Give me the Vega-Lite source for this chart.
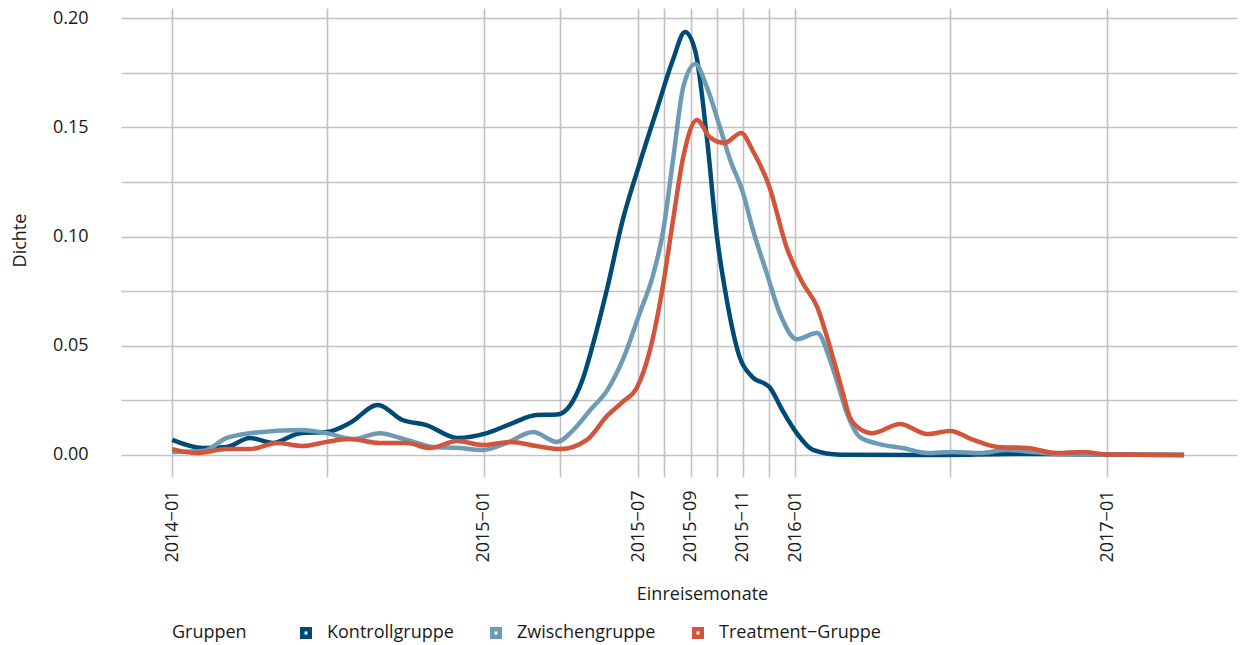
{
  "$schema": "https://vega.github.io/schema/vega-lite/v6.json",
  "width": 1116,
  "height": 469,
  "autosize": {"type": "none"},
  "padding": {"left": 121, "top": 8, "right": 3, "bottom": 168},
  "background": "white",
  "config": {
    "view": {"stroke": null},
    "font": "Open Sans",
    "axis": {"labelColor": "#1a1a1a", "titleColor": "#1a1a1a", "labelFont": "Open Sans", "titleFont": "Open Sans", "titleFontWeight": "normal"},
    "legend": {"labelFont": "Open Sans", "titleFont": "Open Sans", "titleFontWeight": "normal"}
  },
  "data": {
    "values": [
      {"monat": "2014-01-01", "gruppe": "Kontrollgruppe", "dichte": 0.0069},
      {"monat": "2014-02-06", "gruppe": "Kontrollgruppe", "dichte": 0.0032},
      {"monat": "2014-03-06", "gruppe": "Kontrollgruppe", "dichte": 0.0037},
      {"monat": "2014-04-02", "gruppe": "Kontrollgruppe", "dichte": 0.0078},
      {"monat": "2014-04-29", "gruppe": "Kontrollgruppe", "dichte": 0.0055},
      {"monat": "2014-05-31", "gruppe": "Kontrollgruppe", "dichte": 0.0100},
      {"monat": "2014-07-01", "gruppe": "Kontrollgruppe", "dichte": 0.0105},
      {"monat": "2014-07-28", "gruppe": "Kontrollgruppe", "dichte": 0.0146},
      {"monat": "2014-08-30", "gruppe": "Kontrollgruppe", "dichte": 0.0229},
      {"monat": "2014-09-28", "gruppe": "Kontrollgruppe", "dichte": 0.0160},
      {"monat": "2014-10-26", "gruppe": "Kontrollgruppe", "dichte": 0.0137},
      {"monat": "2014-12-01", "gruppe": "Kontrollgruppe", "dichte": 0.0078},
      {"monat": "2015-01-05", "gruppe": "Kontrollgruppe", "dichte": 0.0100},
      {"monat": "2015-02-04", "gruppe": "Kontrollgruppe", "dichte": 0.0146},
      {"monat": "2015-03-04", "gruppe": "Kontrollgruppe", "dichte": 0.0183},
      {"monat": "2015-03-28", "gruppe": "Kontrollgruppe", "dichte": 0.0185},
      {"monat": "2015-04-12", "gruppe": "Kontrollgruppe", "dichte": 0.0225},
      {"monat": "2015-04-27", "gruppe": "Kontrollgruppe", "dichte": 0.0345},
      {"monat": "2015-05-08", "gruppe": "Kontrollgruppe", "dichte": 0.0490},
      {"monat": "2015-05-26", "gruppe": "Kontrollgruppe", "dichte": 0.0765},
      {"monat": "2015-06-13", "gruppe": "Kontrollgruppe", "dichte": 0.1075},
      {"monat": "2015-07-03", "gruppe": "Kontrollgruppe", "dichte": 0.1336},
      {"monat": "2015-07-23", "gruppe": "Kontrollgruppe", "dichte": 0.1580},
      {"monat": "2015-08-11", "gruppe": "Kontrollgruppe", "dichte": 0.1810},
      {"monat": "2015-08-25", "gruppe": "Kontrollgruppe", "dichte": 0.1936},
      {"monat": "2015-09-06", "gruppe": "Kontrollgruppe", "dichte": 0.1850},
      {"monat": "2015-09-20", "gruppe": "Kontrollgruppe", "dichte": 0.1440},
      {"monat": "2015-10-01", "gruppe": "Kontrollgruppe", "dichte": 0.1016},
      {"monat": "2015-10-13", "gruppe": "Kontrollgruppe", "dichte": 0.0710},
      {"monat": "2015-10-28", "gruppe": "Kontrollgruppe", "dichte": 0.0449},
      {"monat": "2015-11-12", "gruppe": "Kontrollgruppe", "dichte": 0.0357},
      {"monat": "2015-12-02", "gruppe": "Kontrollgruppe", "dichte": 0.0311},
      {"monat": "2015-12-17", "gruppe": "Kontrollgruppe", "dichte": 0.0206},
      {"monat": "2016-01-03", "gruppe": "Kontrollgruppe", "dichte": 0.0100},
      {"monat": "2016-01-22", "gruppe": "Kontrollgruppe", "dichte": 0.0023},
      {"monat": "2016-02-23", "gruppe": "Kontrollgruppe", "dichte": 0.0001},
      {"monat": "2016-06-01", "gruppe": "Kontrollgruppe", "dichte": 0.0000},
      {"monat": "2016-10-01", "gruppe": "Kontrollgruppe", "dichte": 0.0005},
      {"monat": "2017-01-01", "gruppe": "Kontrollgruppe", "dichte": 0.0002},
      {"monat": "2017-04-01", "gruppe": "Kontrollgruppe", "dichte": 0.0000},

      {"monat": "2014-01-01", "gruppe": "Zwischengruppe", "dichte": 0.0014},
      {"monat": "2014-02-06", "gruppe": "Zwischengruppe", "dichte": 0.0018},
      {"monat": "2014-03-06", "gruppe": "Zwischengruppe", "dichte": 0.0078},
      {"monat": "2014-04-02", "gruppe": "Zwischengruppe", "dichte": 0.0100},
      {"monat": "2014-05-31", "gruppe": "Zwischengruppe", "dichte": 0.0114},
      {"monat": "2014-07-01", "gruppe": "Zwischengruppe", "dichte": 0.0100},
      {"monat": "2014-08-01", "gruppe": "Zwischengruppe", "dichte": 0.0073},
      {"monat": "2014-09-01", "gruppe": "Zwischengruppe", "dichte": 0.0100},
      {"monat": "2014-10-03", "gruppe": "Zwischengruppe", "dichte": 0.0069},
      {"monat": "2014-11-02", "gruppe": "Zwischengruppe", "dichte": 0.0037},
      {"monat": "2014-12-04", "gruppe": "Zwischengruppe", "dichte": 0.0032},
      {"monat": "2014-12-31", "gruppe": "Zwischengruppe", "dichte": 0.0023},
      {"monat": "2015-01-28", "gruppe": "Zwischengruppe", "dichte": 0.0055},
      {"monat": "2015-02-28", "gruppe": "Zwischengruppe", "dichte": 0.0105},
      {"monat": "2015-03-28", "gruppe": "Zwischengruppe", "dichte": 0.0060},
      {"monat": "2015-04-16", "gruppe": "Zwischengruppe", "dichte": 0.0114},
      {"monat": "2015-05-06", "gruppe": "Zwischengruppe", "dichte": 0.0206},
      {"monat": "2015-05-26", "gruppe": "Zwischengruppe", "dichte": 0.0297},
      {"monat": "2015-06-13", "gruppe": "Zwischengruppe", "dichte": 0.0435},
      {"monat": "2015-07-03", "gruppe": "Zwischengruppe", "dichte": 0.0650},
      {"monat": "2015-07-18", "gruppe": "Zwischengruppe", "dichte": 0.0815},
      {"monat": "2015-07-30", "gruppe": "Zwischengruppe", "dichte": 0.1016},
      {"monat": "2015-08-11", "gruppe": "Zwischengruppe", "dichte": 0.1350},
      {"monat": "2015-08-23", "gruppe": "Zwischengruppe", "dichte": 0.1684},
      {"monat": "2015-09-06", "gruppe": "Zwischengruppe", "dichte": 0.1790},
      {"monat": "2015-09-20", "gruppe": "Zwischengruppe", "dichte": 0.1680},
      {"monat": "2015-10-05", "gruppe": "Zwischengruppe", "dichte": 0.1500},
      {"monat": "2015-10-17", "gruppe": "Zwischengruppe", "dichte": 0.1350},
      {"monat": "2015-11-01", "gruppe": "Zwischengruppe", "dichte": 0.1200},
      {"monat": "2015-11-12", "gruppe": "Zwischengruppe", "dichte": 0.1040},
      {"monat": "2015-11-29", "gruppe": "Zwischengruppe", "dichte": 0.0830},
      {"monat": "2015-12-14", "gruppe": "Zwischengruppe", "dichte": 0.0650},
      {"monat": "2016-01-03", "gruppe": "Zwischengruppe", "dichte": 0.0530},
      {"monat": "2016-01-27", "gruppe": "Zwischengruppe", "dichte": 0.0558},
      {"monat": "2016-02-11", "gruppe": "Zwischengruppe", "dichte": 0.0435},
      {"monat": "2016-02-19", "gruppe": "Zwischengruppe", "dichte": 0.0340},
      {"monat": "2016-03-02", "gruppe": "Zwischengruppe", "dichte": 0.0190},
      {"monat": "2016-03-17", "gruppe": "Zwischengruppe", "dichte": 0.0082},
      {"monat": "2016-04-09", "gruppe": "Zwischengruppe", "dichte": 0.0050},
      {"monat": "2016-05-06", "gruppe": "Zwischengruppe", "dichte": 0.0032},
      {"monat": "2016-06-04", "gruppe": "Zwischengruppe", "dichte": 0.0009},
      {"monat": "2016-07-04", "gruppe": "Zwischengruppe", "dichte": 0.0014},
      {"monat": "2016-08-05", "gruppe": "Zwischengruppe", "dichte": 0.0009},
      {"monat": "2016-09-05", "gruppe": "Zwischengruppe", "dichte": 0.0023},
      {"monat": "2016-10-06", "gruppe": "Zwischengruppe", "dichte": 0.0014},
      {"monat": "2016-11-03", "gruppe": "Zwischengruppe", "dichte": 0.0005},
      {"monat": "2017-01-01", "gruppe": "Zwischengruppe", "dichte": 0.0002},
      {"monat": "2017-04-01", "gruppe": "Zwischengruppe", "dichte": 0.0000},

      {"monat": "2014-01-01", "gruppe": "Treatment−Gruppe", "dichte": 0.0027},
      {"monat": "2014-01-30", "gruppe": "Treatment−Gruppe", "dichte": 0.0009},
      {"monat": "2014-03-06", "gruppe": "Treatment−Gruppe", "dichte": 0.0027},
      {"monat": "2014-04-02", "gruppe": "Treatment−Gruppe", "dichte": 0.0027},
      {"monat": "2014-05-04", "gruppe": "Treatment−Gruppe", "dichte": 0.0055},
      {"monat": "2014-06-03", "gruppe": "Treatment−Gruppe", "dichte": 0.0041},
      {"monat": "2014-07-01", "gruppe": "Treatment−Gruppe", "dichte": 0.0060},
      {"monat": "2014-07-28", "gruppe": "Treatment−Gruppe", "dichte": 0.0073},
      {"monat": "2014-09-01", "gruppe": "Treatment−Gruppe", "dichte": 0.0055},
      {"monat": "2014-10-03", "gruppe": "Treatment−Gruppe", "dichte": 0.0055},
      {"monat": "2014-10-30", "gruppe": "Treatment−Gruppe", "dichte": 0.0032},
      {"monat": "2014-12-01", "gruppe": "Treatment−Gruppe", "dichte": 0.0064},
      {"monat": "2014-12-31", "gruppe": "Treatment−Gruppe", "dichte": 0.0046},
      {"monat": "2015-02-01", "gruppe": "Treatment−Gruppe", "dichte": 0.0060},
      {"monat": "2015-03-04", "gruppe": "Treatment−Gruppe", "dichte": 0.0041},
      {"monat": "2015-04-01", "gruppe": "Treatment−Gruppe", "dichte": 0.0027},
      {"monat": "2015-05-02", "gruppe": "Treatment−Gruppe", "dichte": 0.0069},
      {"monat": "2015-05-26", "gruppe": "Treatment−Gruppe", "dichte": 0.0180},
      {"monat": "2015-06-13", "gruppe": "Treatment−Gruppe", "dichte": 0.0243},
      {"monat": "2015-06-30", "gruppe": "Treatment−Gruppe", "dichte": 0.0311},
      {"monat": "2015-07-15", "gruppe": "Treatment−Gruppe", "dichte": 0.0480},
      {"monat": "2015-07-30", "gruppe": "Treatment−Gruppe", "dichte": 0.0769},
      {"monat": "2015-08-11", "gruppe": "Treatment−Gruppe", "dichte": 0.1075},
      {"monat": "2015-08-23", "gruppe": "Treatment−Gruppe", "dichte": 0.1364},
      {"monat": "2015-09-08", "gruppe": "Treatment−Gruppe", "dichte": 0.1533},
      {"monat": "2015-09-23", "gruppe": "Treatment−Gruppe", "dichte": 0.1455},
      {"monat": "2015-10-10", "gruppe": "Treatment−Gruppe", "dichte": 0.1428},
      {"monat": "2015-10-30", "gruppe": "Treatment−Gruppe", "dichte": 0.1474},
      {"monat": "2015-11-12", "gruppe": "Treatment−Gruppe", "dichte": 0.1396},
      {"monat": "2015-12-02", "gruppe": "Treatment−Gruppe", "dichte": 0.1227},
      {"monat": "2015-12-22", "gruppe": "Treatment−Gruppe", "dichte": 0.0952},
      {"monat": "2016-01-10", "gruppe": "Treatment−Gruppe", "dichte": 0.0787},
      {"monat": "2016-01-27", "gruppe": "Treatment−Gruppe", "dichte": 0.0677},
      {"monat": "2016-02-11", "gruppe": "Treatment−Gruppe", "dichte": 0.0494},
      {"monat": "2016-02-26", "gruppe": "Treatment−Gruppe", "dichte": 0.0284},
      {"monat": "2016-03-05", "gruppe": "Treatment−Gruppe", "dichte": 0.0174},
      {"monat": "2016-03-17", "gruppe": "Treatment−Gruppe", "dichte": 0.0120},
      {"monat": "2016-04-01", "gruppe": "Treatment−Gruppe", "dichte": 0.0100},
      {"monat": "2016-05-03", "gruppe": "Treatment−Gruppe", "dichte": 0.0142},
      {"monat": "2016-06-04", "gruppe": "Treatment−Gruppe", "dichte": 0.0096},
      {"monat": "2016-07-01", "gruppe": "Treatment−Gruppe", "dichte": 0.0110},
      {"monat": "2016-07-28", "gruppe": "Treatment−Gruppe", "dichte": 0.0069},
      {"monat": "2016-08-25", "gruppe": "Treatment−Gruppe", "dichte": 0.0037},
      {"monat": "2016-09-29", "gruppe": "Treatment−Gruppe", "dichte": 0.0032},
      {"monat": "2016-11-03", "gruppe": "Treatment−Gruppe", "dichte": 0.0009},
      {"monat": "2016-12-03", "gruppe": "Treatment−Gruppe", "dichte": 0.0014},
      {"monat": "2017-01-01", "gruppe": "Treatment−Gruppe", "dichte": 0.0002},
      {"monat": "2017-04-01", "gruppe": "Treatment−Gruppe", "dichte": 0.0000}
    ]
  },
  "mark": {"type": "line", "strokeWidth": 4.5, "interpolate": "monotone", "strokeCap": "butt", "strokeJoin": "round"},
  "encoding": {
    "x": {
      "field": "monat",
      "type": "temporal",
      "title": "Einreisemonate",
      "scale": {
        "type": "utc",
        "domain": [{"year": 2013, "month": 11, "date": 2, "utc": true}, {"year": 2017, "month": 6, "date": 2, "utc": true}],
        "nice": false
      },
      "axis": {
        "values": [
          {"year": 2014, "month": 1, "date": 1, "utc": true},
          {"year": 2014, "month": 7, "date": 1, "utc": true},
          {"year": 2015, "month": 1, "date": 1, "utc": true},
          {"year": 2015, "month": 4, "date": 1, "utc": true},
          {"year": 2015, "month": 7, "date": 1, "utc": true},
          {"year": 2015, "month": 8, "date": 1, "utc": true},
          {"year": 2015, "month": 9, "date": 1, "utc": true},
          {"year": 2015, "month": 10, "date": 1, "utc": true},
          {"year": 2015, "month": 11, "date": 1, "utc": true},
          {"year": 2015, "month": 12, "date": 1, "utc": true},
          {"year": 2016, "month": 1, "date": 1, "utc": true},
          {"year": 2016, "month": 7, "date": 1, "utc": true},
          {"year": 2017, "month": 1, "date": 1, "utc": true}
        ],
        "labelExpr": "indexof(['2014-01','2015-01','2015-07','2015-09','2015-11','2016-01','2017-01'], utcFormat(datum.value, '%Y-%m')) >= 0 ? utcFormat(datum.value, '%Y−%m') : ''",
        "labelAngle": -90,
        "labelAlign": "right",
        "labelBaseline": "middle",
        "labelPadding": 13,
        "labelFontSize": 18,
        "labelOverlap": false,
        "labelBound": false,
        "domain": false,
        "ticks": false,
        "tickSize": 0,
        "grid": true,
        "gridColor": "#c2c2c2",
        "gridWidth": 1.6,
        "titleFontSize": 18,
        "titleX": 581,
        "titleY": 122,
        "titleAlign": "center",
        "titleBaseline": "alphabetic"
      }
    },
    "y": {
      "field": "dichte",
      "type": "quantitative",
      "title": "Dichte",
      "scale": {"domain": [-0.01007, 0.20458], "nice": false, "zero": false},
      "axis": {
        "values": [0, 0.025, 0.05, 0.075, 0.1, 0.125, 0.15, 0.175, 0.2],
        "labelExpr": "round(datum.value * 1000) % 50 == 0 ? format(datum.value, '.2f') : ''",
        "labelPadding": 33,
        "labelFontSize": 18,
        "labelOverlap": false,
        "domain": false,
        "ticks": false,
        "tickSize": 0,
        "grid": true,
        "gridColor": "#c2c2c2",
        "gridWidth": 1.6,
        "titleFontSize": 18,
        "titleAngle": 270,
        "titleX": -101,
        "titleY": 232,
        "titleAlign": "center",
        "titleBaseline": "middle"
      }
    },
    "color": {
      "field": "gruppe",
      "type": "nominal",
      "sort": ["Kontrollgruppe", "Zwischengruppe", "Treatment−Gruppe"],
      "scale": {
        "domain": ["Kontrollgruppe", "Zwischengruppe", "Treatment−Gruppe"],
        "range": ["#004b76", "#6d9ab5", "#d2543b"]
      },
      "legend": {
        "title": "Gruppen",
        "orient": "none",
        "legendX": 51,
        "legendY": 616,
        "direction": "horizontal",
        "titleOrient": "left",
        "titleFontSize": 18,
        "titleColor": "#1a1a1a",
        "titlePadding": 50,
        "titleBaseline": "middle",
        "labelFontSize": 18,
        "labelColor": "#1a1a1a",
        "labelOffset": 12,
        "labelLimit": 400,
        "columnPadding": 33,
        "symbolType": "M-1,-1H1V1H-1Z M-0.24,-0.24V0.24H0.24V-0.24Z",
        "symbolSize": 144,
        "symbolStrokeWidth": 0,
        "symbolOpacity": 1,
        "encode": {
          "symbols": {"update": {"fill": {"scale": "color", "field": "value"}, "fillOpacity": {"value": 1}}}
        }
      }
    }
  }
}
